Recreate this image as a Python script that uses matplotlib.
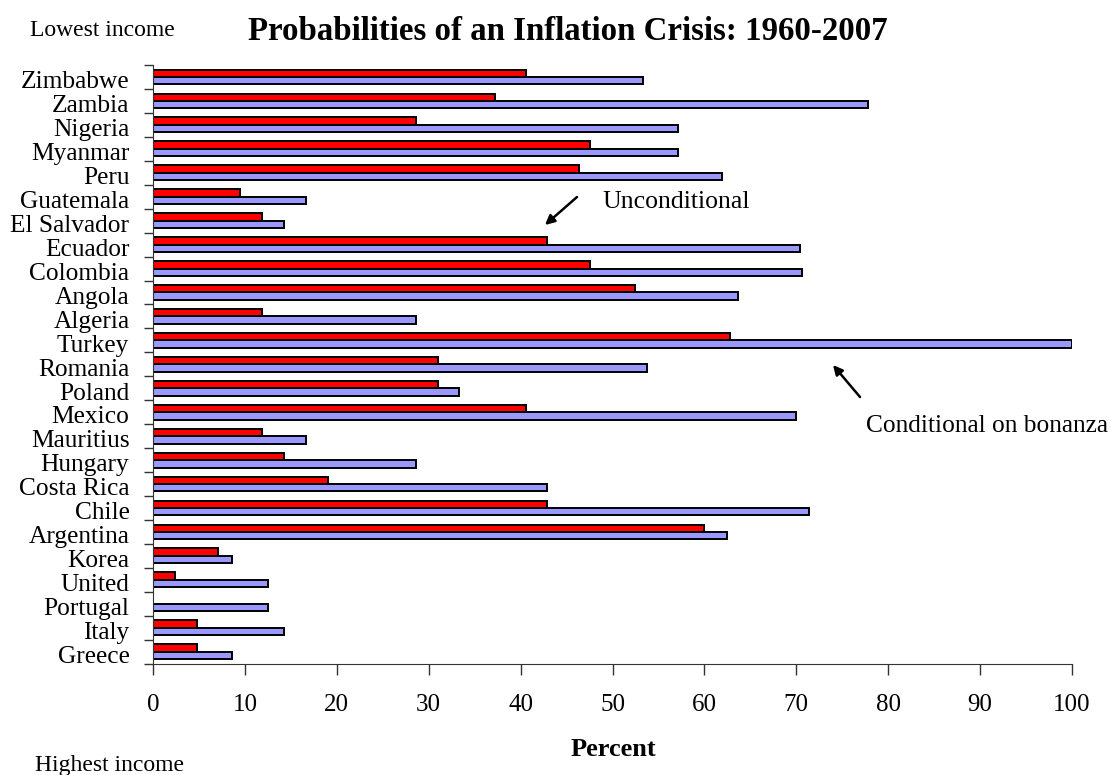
import matplotlib
matplotlib.use("Agg")
import matplotlib.pyplot as plt
import matplotlib.transforms as mtransforms
import numpy as np

plt.rcParams["font.family"] = ["Liberation Serif", "DejaVu Serif"]

# top (lowest income) to bottom (highest income)
countries = [
    "Zimbabwe", "Zambia", "Nigeria", "Myanmar", "Peru", "Guatemala",
    "El Salvador", "Ecuador", "Colombia", "Angola", "Algeria", "Turkey",
    "Romania", "Poland", "Mexico", "Mauritius", "Hungary", "Costa Rica",
    "Chile", "Argentina", "Korea", "United", "Portugal", "Italy", "Greece",
]
unconditional = [
    40.6, 37.2, 28.6, 47.6, 46.4, 9.5,
    11.9, 42.9, 47.6, 52.4, 11.9, 62.8,
    31.0, 31.0, 40.6, 11.9, 14.3, 19.0,
    42.9, 60.0, 7.1, 2.4, 0.0, 4.8, 4.8,
]
conditional = [
    53.3, 77.8, 57.1, 57.1, 61.9, 16.7,
    14.3, 70.4, 70.6, 63.6, 28.6, 100.0,
    53.8, 33.3, 70.0, 16.7, 28.6, 42.9,
    71.4, 62.5, 8.6, 12.5, 12.5, 14.3, 8.6,
]
xticks = list(range(0, 101, 10))

W, H = 1116, 775
n = len(countries)
pos = np.arange(n)[::-1]  # Zimbabwe at the top


def fpx(x, y):
    # pixel position (from top-left) -> figure fraction
    return x / W, 1 - y / H


fig = plt.figure(figsize=(W / 100, H / 100), dpi=100)
ax = fig.add_axes([0.1371, 0.1437, 0.8235, 0.7724])

h = 0.31
ax.barh(pos + h / 2, unconditional, height=h, color="#FF0000",
        edgecolor="black", linewidth=1.4)
ax.barh(pos - h / 2, conditional, height=h, color="#9999FF",
        edgecolor="black", linewidth=1.4)

ax.set_xlim(0, 100)
ax.set_ylim(-0.5, n - 0.5)

for s in ("top", "right"):
    ax.spines[s].set_visible(False)
ax.spines["left"].set_color("#333333")
ax.spines["bottom"].set_color("#333333")

ax.set_xticks(xticks)
ax.tick_params(axis="x", direction="out", length=8, width=1, pad=14,
               labelsize=18, color="#333333")

# category boundaries as ticks, labels at centres
ax.set_yticks(np.arange(-0.5, n, 1.0))
ax.set_yticklabels([])
ax.tick_params(axis="y", which="major", direction="out", length=6.5, width=1,
               color="#333333")
ax.set_yticks(pos, minor=True)
ax.set_yticklabels(countries, minor=True)
ax.tick_params(axis="y", which="minor", length=0, pad=17, labelsize=18.3)
shift = mtransforms.ScaledTranslation(0, -2 / 72, fig.dpi_scale_trans)
for lab in ax.get_yticklabels(minor=True):
    lab.set_transform(lab.get_transform() + shift)

fig.text(*fpx(568, 31), "Probabilities of an Inflation Crisis: 1960-2007",
         ha="center", va="center", fontsize=23.7, fontweight="bold")
fig.text(*fpx(30, 30), "Lowest income", ha="left", va="center", fontsize=17)
fig.text(*fpx(35, 765), "Highest income", ha="left", va="center", fontsize=17)
fig.text(*fpx(613, 750), "Percent", ha="center", va="center", fontsize=19,
         fontweight="bold")

ax.annotate("", xy=fpx(545, 225), xytext=fpx(577, 197),
            xycoords="figure fraction", textcoords="figure fraction",
            arrowprops=dict(arrowstyle="-|>", color="black", lw=1.8,
                            mutation_scale=14, shrinkA=0, shrinkB=0))
fig.text(*fpx(602, 202), "Unconditional", ha="left", va="center",
         fontsize=18.5)

ax.annotate("", xy=fpx(833, 365), xytext=fpx(860, 397),
            xycoords="figure fraction", textcoords="figure fraction",
            arrowprops=dict(arrowstyle="-|>", color="black", lw=1.8,
                            mutation_scale=14, shrinkA=0, shrinkB=0))
fig.text(*fpx(866, 426), "Conditional on bonanza", ha="left", va="center",
         fontsize=18.3)

fig.savefig("out.png", dpi=100)
